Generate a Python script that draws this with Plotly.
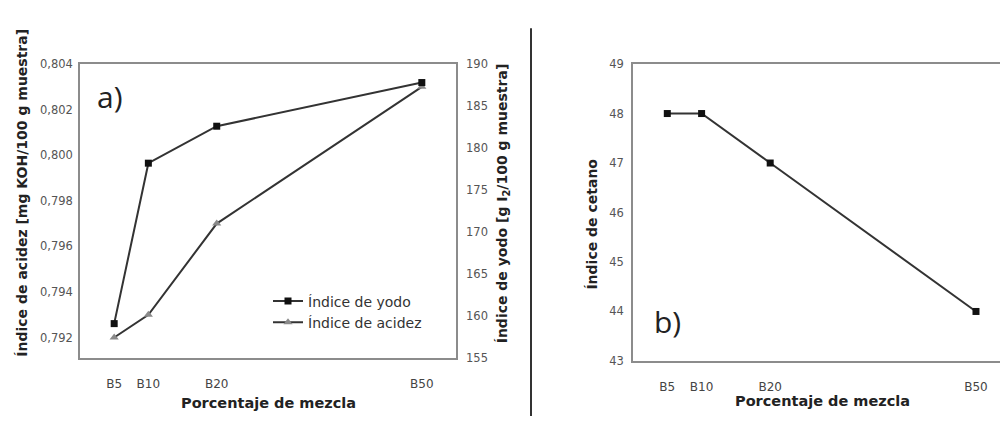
import plotly.graph_objects as go

# ---- data ----
mezcla_pct = [5, 10, 20, 50]
mezcla_labels = ["B5", "B10", "B20", "B50"]
indice_yodo = [159.1, 178.2, 182.6, 187.8]        # g I2/100 g muestra (right axis, panel a)
indice_acidez = [0.792, 0.793, 0.797, 0.803]      # mg KOH/100 g muestra (left axis, panel a)
indice_cetano = [48, 48, 47, 44]                  # panel b
acidez_ticks = [0.792, 0.794, 0.796, 0.798, 0.800, 0.802, 0.804]
yodo_ticks = [155, 160, 165, 170, 175, 180, 185, 190]
cetano_ticks = [43, 44, 45, 46, 47, 48, 49]

W, H = 1000, 425
def px(x):
    return x / W
def py(y):
    return 1 - y / H

LINE = "#333333"
BOX = "#8c8c8c"
TICKF = dict(family="DejaVu Sans", size=11.5, color="#555555")
TITLEF = dict(family="DejaVu Sans", size=14.5, color="#222222")
YTITLEF = dict(family="DejaVu Sans", size=14, color="#222222")

fig = go.Figure()

fig.add_trace(go.Scatter(
    x=mezcla_pct, y=indice_yodo, name="Índice de yodo", mode="lines+markers",
    line=dict(color=LINE, width=2), marker=dict(symbol="square", size=7, color="#111111"),
    xaxis="x", yaxis="y2"))
fig.add_trace(go.Scatter(
    x=mezcla_pct, y=indice_acidez, name="Índice de acidez", mode="lines+markers",
    line=dict(color=LINE, width=2), marker=dict(symbol="triangle-up", size=8, color="#8a8a8a"),
    xaxis="x", yaxis="y"))
fig.add_trace(go.Scatter(
    x=mezcla_pct, y=indice_cetano, name="Índice de cetano", mode="lines+markers",
    line=dict(color=LINE, width=2), marker=dict(symbol="square", size=7, color="#111111"),
    xaxis="x2", yaxis="y3", showlegend=False))

common_x = dict(tickvals=mezcla_pct, ticktext=mezcla_labels, showgrid=False, zeroline=False,
                showline=True, linecolor=BOX, linewidth=1.5, mirror=True, ticks="",
                ticklabelstandoff=14, tickfont=dict(family="DejaVu Sans", size=12, color="#444444"))

fig.update_layout(
    width=W, height=H, margin=dict(l=0, r=0, t=0, b=0),
    paper_bgcolor="white", plot_bgcolor="white",
    separators=", ",
    xaxis=dict(domain=[px(80), px(456)], range=[0, 55], anchor="y", **common_x),
    yaxis=dict(domain=[py(363), py(59)], range=[0.7911, 0.804], tickvals=acidez_ticks,
               tickformat=".3f", showgrid=False, zeroline=False, showline=True,
               linecolor=BOX, linewidth=1.5, ticks="", ticklabelstandoff=3, tickfont=TICKF,
               anchor="x"),
    yaxis2=dict(overlaying="y", side="right", range=[155, 190], tickvals=yodo_ticks,
                showgrid=False, zeroline=False, showline=True, linecolor=BOX, linewidth=1.5,
                ticks="", ticklabelstandoff=6, tickfont=TICKF, anchor="x"),
    xaxis2=dict(domain=[px(633), 1.0], range=[0, 53.5], anchor="y3", **common_x),
    yaxis3=dict(domain=[py(366), py(59)], range=[43, 49], tickvals=cetano_ticks,
                showgrid=False, zeroline=False, showline=True, linecolor=BOX, linewidth=1.5,
                ticks="", ticklabelstandoff=5, tickfont=TICKF, anchor="x2"),
    legend=dict(x=px(268), y=py(288), xanchor="left", yanchor="top",
                bgcolor="rgba(0,0,0,0)", font=dict(family="DejaVu Sans", size=14, color="#333333"),
                tracegroupgap=0),
    showlegend=True,
)

# divider between panels
fig.add_shape(type="line", xref="paper", yref="paper", x0=px(531), x1=px(531),
              y0=py(423), y1=py(22), line=dict(color="#333333", width=2))

ann = [
    dict(text="a)", x=px(110), y=py(93), font=dict(family="Open Sans", size=30, color="#222222")),
    dict(text="b)", x=px(667), y=py(325), font=dict(family="Open Sans", size=30, color="#222222")),
    dict(text="<b>Porcentaje de mezcla</b>", x=px(268), y=py(410), font=TITLEF),
    dict(text="<b>Porcentaje de mezcla</b>", x=px(822), y=py(407), font=TITLEF),
    dict(text="<b>Índice de acidez [mg KOH/100 g muestra]</b>", x=px(22), y=py(192),
         textangle=-90, font=YTITLEF),
    dict(text="<b>Índice de yodo [g I<sub>2</sub>/100 g muestra]</b>", x=px(503), y=py(203),
         textangle=-90, font=YTITLEF),
    dict(text="<b>Índice de cetano</b>", x=px(592), y=py(225), textangle=-90, font=YTITLEF),
]
for a in ann:
    fig.add_annotation(xref="paper", yref="paper", showarrow=False,
                       xanchor="center", yanchor="middle", **a)

fig.write_html("out.html", config={"displayModeBar": False},
               post_script="document.body.style.margin='0';")
